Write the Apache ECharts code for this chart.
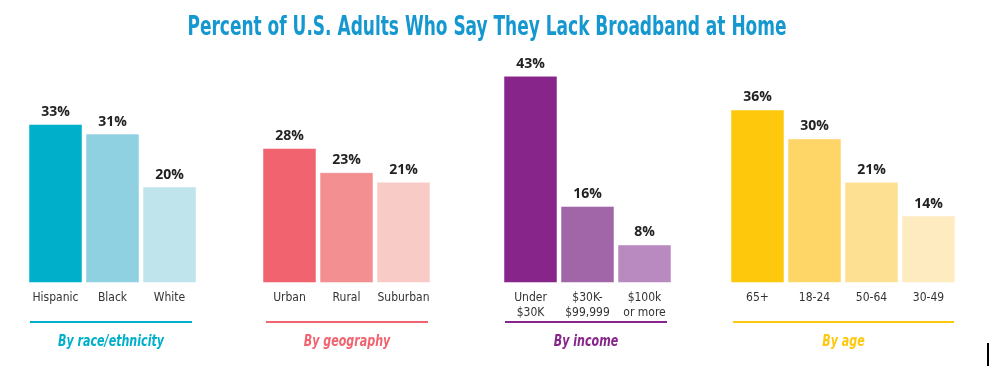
<!DOCTYPE html>
<html>
<head>
<meta charset="utf-8">
<script src="https://cdn.jsdelivr.net/npm/echarts@6/dist/echarts.min.js"></script>
<style>html,body{margin:0;padding:0;background:#fff}#c{width:1000px;height:366px}</style>
</head>
<body>
<div id="c"></div>
<script>
const titleText = 'Percent of U.S. Adults Who Say They Lack Broadband at Home';
const groupNames = ['By race/ethnicity', 'By geography', 'By income', 'By age'];
const raceCats = ['Hispanic', 'Black', 'White'];
const raceVals = [33, 31, 20];
const geoCats = ['Urban', 'Rural', 'Suburban'];
const geoVals = [28, 23, 21];
const incomeCats = ['Under\n$30K', '$30K-\n$99,999', '$100k\nor more'];
const incomeVals = [43, 16, 8];
const ageCats = ['65+', '18-24', '50-64', '30-49'];
const ageVals = [36, 30, 21, 14];

const groupColors = [
  ['#00b0cb', '#8fd1e1', '#bfe4ec'],
  ['#f0636f', '#f48f91', '#f9cbc7'],
  ['#87258b', '#a066a8', '#b88ac0'],
  ['#fec80d', '#fed567', '#fee093', '#feebc0']
];
const lineColors = ['#00b0cb', '#f0636f', '#87258b', '#fec80d'];

const groups = [
  {cats: raceCats, vals: raceVals, left: 27, width: 171},
  {cats: geoCats, vals: geoVals, left: 261, width: 171},
  {cats: incomeCats, vals: incomeVals, left: 502, width: 171},
  {cats: ageCats, vals: ageVals, left: 729, width: 228}
];
const lines = [[30, 192], [266, 428], [505, 667], [733, 954]];

const condensed = '"Liberation Sans Narrow", "DejaVu Sans Condensed", "Roboto Condensed", sans-serif';

const grids = [], xAxes = [], yAxes = [], series = [];
groups.forEach((g, i) => {
  grids.push({left: g.left, width: g.width, top: 42, bottom: 83, containLabel: false});
  xAxes.push({
    type: 'category', gridIndex: i, data: g.cats,
    axisLine: {show: false}, axisTick: {show: false},
    axisLabel: {color: '#333', fontFamily: condensed, fontSize: 12, margin: 7, lineHeight: 15, interval: 0}
  });
  yAxes.push({type: 'value', gridIndex: i, min: 0, max: 50, show: false, splitLine: {show: false}});
  series.push({
    type: 'bar', xAxisIndex: i, yAxisIndex: i, barWidth: 54,
    data: g.vals.map((v, j) => ({value: v, itemStyle: {color: groupColors[i][j]}})),
    label: {show: true, position: 'top', distance: 5, formatter: '{c}%', color: '#222',
      fontFamily: '"Open Sans", sans-serif', fontWeight: 'bold', fontSize: 14},
    itemStyle: {borderColor: 'rgba(255,255,255,0.5)', borderWidth: 1},
    silent: true
  });
});

const graphics = [];
graphics.push({type: 'text', x: 487, y: 28, scaleX: 0.70,
  style: {text: titleText, fill: '#1597cf', font: 'bold 27px ' + condensed,
    textAlign: 'center', textVerticalAlign: 'middle'}});
lines.forEach((l, i) => {
  graphics.push({type: 'line', shape: {x1: l[0], y1: 322, x2: l[1], y2: 322},
    style: {stroke: lineColors[i], lineWidth: 2}});
  graphics.push({type: 'text', x: (l[0] + l[1]) / 2, y: 342, scaleX: 0.77,
    style: {text: groupNames[i], fill: lineColors[i], font: 'italic bold 16px ' + condensed,
      textAlign: 'center', textVerticalAlign: 'middle'}});
});
graphics.push({type: 'rect', shape: {x: 987, y: 343, width: 2, height: 23}, style: {fill: '#000'}});

const chart = echarts.init(document.getElementById('c'));
chart.setOption({
  animation: false,
  grid: grids, xAxis: xAxes, yAxis: yAxes, series: series, graphic: graphics
});
</script>
</body>
</html>
